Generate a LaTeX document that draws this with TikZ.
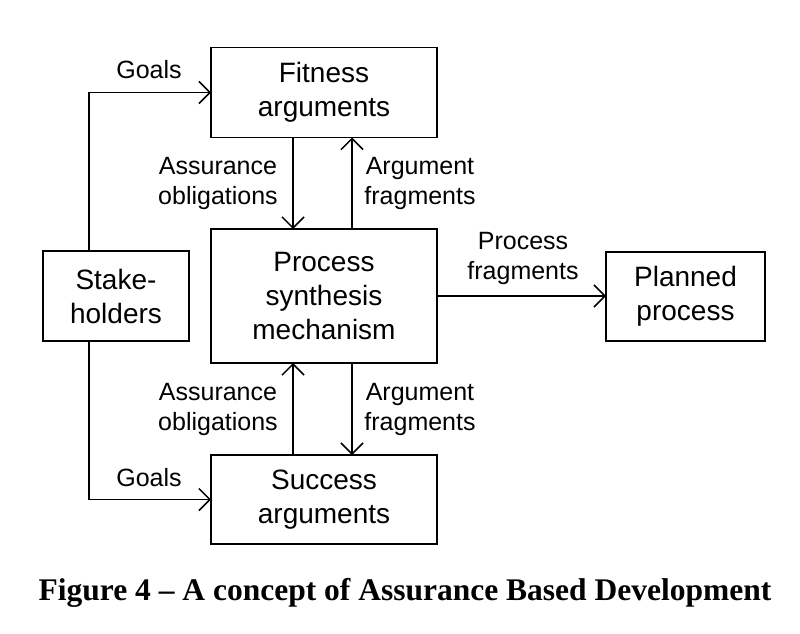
\documentclass[tikz,border=0pt]{standalone}
\usepackage{fontspec}
\setmainfont{Liberation Sans}
\newfontfamily\capfont[Ligatures=TeX]{Liberation Serif}
\usetikzlibrary{arrows.meta}
\tikzset{
  box/.style={draw, line width=1.5pt, inner sep=0pt, outer sep=0pt, align=center,
    font=\fontsize{28}{34}\selectfont},
  lbl/.style={align=center, inner sep=0pt, font=\fontsize{25}{30}\selectfont},
  arr/.style={line width=1.5pt, -{Straight Barb[length=11pt,width=22pt,line width=1.5pt]}},
}
\begin{document}
\begin{tikzpicture}[x=1pt,y=-1pt]
\useasboundingbox (0,0) rectangle (800,634);
\node[box, minimum width=226pt, minimum height=90pt] (fit) at (324,92.5) {Fitness\\arguments};
\node[box, minimum width=226pt, minimum height=134pt] (proc) at (324,296) {Process\\synthesis\\mechanism};
\node[box, minimum width=226pt, minimum height=89pt] (succ) at (324,499.5) {Success\\arguments};
\node[box, minimum width=146pt, minimum height=90pt] (stake) at (116,296) {Stake-\\holders};
\node[box, minimum width=159pt, minimum height=89pt] (plan) at (685.5,296.5) {Planned\\process};

\draw[arr] ([xshift=-27pt]stake.north) |- (fit.west);
\draw[arr] ([xshift=-27pt]stake.south) |- (succ.west);
\draw[arr] ([xshift=-31pt]fit.south) -- ([xshift=-31pt]proc.north);
\draw[arr] ([xshift=28pt]proc.north) -- ([xshift=28pt]fit.south);
\draw[arr] ([xshift=-31pt]succ.north) -- ([xshift=-31pt]proc.south);
\draw[arr] ([xshift=28pt]proc.south) -- ([xshift=28pt]succ.north);
\draw[arr] (proc.east) -- (proc.east -| plan.west);

\node[lbl] (g1) at (149,70) {Goals};
\node[lbl] (g2) at (149,478) {Goals};
\node[lbl] (ao1) at (218,183) {Assurance\\obligations};
\node[lbl] (af1) at (420,183) {Argument\\fragments};
\node[lbl] (ao2) at (218,409) {Assurance\\obligations};
\node[lbl] (af2) at (420,409) {Argument\\fragments};
\node[lbl] (pf) at (523,258) {Process\\fragments};

\node[anchor=base, inner sep=0pt, font=\capfont\bfseries\fontsize{31.5}{36}\selectfont] (cap) at (405,600) {Figure 4 – A concept of Assurance Based Development};
\end{tikzpicture}
\end{document}
